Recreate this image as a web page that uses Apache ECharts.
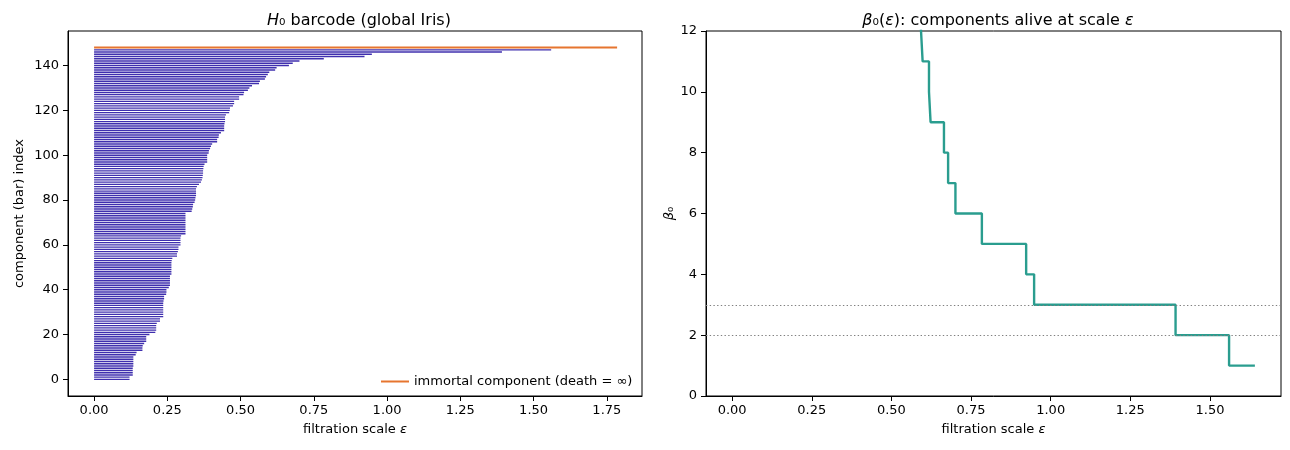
<!DOCTYPE html>
<html>
<head>
<meta charset="utf-8">
<script src="https://cdn.jsdelivr.net/npm/echarts@6/dist/echarts.min.js"></script>
<style>
  html, body { margin: 0; padding: 0; background: #fff; }
  #chart { width: 1290px; height: 450px; }
</style>
</head>
<body>
<div id="chart"></div>
<script>
// death scale of each finite H0 bar, sorted ascending (bar index = position)
const deaths = [
    0.121, 0.121, 0.132, 0.132, 0.132, 0.132, 0.134, 0.134, 0.134, 0.134,
    0.134, 0.142, 0.145, 0.165, 0.165, 0.166, 0.171, 0.178, 0.178, 0.178,
    0.189, 0.209, 0.212, 0.212, 0.212, 0.214, 0.225, 0.225, 0.236, 0.236,
    0.236, 0.236, 0.236, 0.236, 0.236, 0.237, 0.239, 0.239, 0.246, 0.247,
    0.247, 0.255, 0.259, 0.259, 0.259, 0.259, 0.259, 0.264, 0.264, 0.264,
    0.264, 0.264, 0.264, 0.265, 0.267, 0.283, 0.283, 0.286, 0.288, 0.288,
    0.295, 0.295, 0.295, 0.295, 0.297, 0.312, 0.312, 0.312, 0.312, 0.312,
    0.312, 0.312, 0.312, 0.312, 0.312, 0.333, 0.335, 0.337, 0.338, 0.343,
    0.345, 0.346, 0.348, 0.348, 0.348, 0.348, 0.351, 0.358, 0.365, 0.368,
    0.370, 0.371, 0.372, 0.372, 0.373, 0.374, 0.377, 0.386, 0.386, 0.386,
    0.386, 0.391, 0.392, 0.396, 0.399, 0.403, 0.420, 0.420, 0.425, 0.426,
    0.433, 0.444, 0.444, 0.444, 0.445, 0.447, 0.447, 0.447, 0.450, 0.461,
    0.463, 0.464, 0.474, 0.478, 0.478, 0.495, 0.495, 0.510, 0.512, 0.525,
    0.530, 0.539, 0.563, 0.566, 0.583, 0.587, 0.593, 0.598, 0.618, 0.623,
    0.665, 0.678, 0.701, 0.784, 0.923, 0.948, 1.392, 1.560
];
// the immortal bar, drawn up to this scale
const immortalEnd = 1.785;
// where the beta0 curve stops on the right
const stepEnd = 1.641;
// reference levels (dotted)
const refLevels = [3, 2];

const barXTicks = [0, 0.25, 0.5, 0.75, 1.0, 1.25, 1.5, 1.75];
const barYTicks = [0, 20, 40, 60, 80, 100, 120, 140];
const stepXTicks = [0, 0.25, 0.5, 0.75, 1.0, 1.25, 1.5];

const FONT = 'DejaVu Sans';
const immortalIdx = deaths.length;

// beta0(eps) = 1 + number of finite bars still alive
const stepData = [[0, deaths.length + 1]];
deaths.forEach((d, i) => {
    stepData.push([d, deaths.length - i]);
});
stepData.push([stepEnd, 1]);

const axisCommon = {
    axisLine: { show: true, onZero: false, lineStyle: { color: '#000', width: 1 } },
    axisTick: { show: true, inside: false, length: 5, lineStyle: { color: '#000' } },
    splitLine: { show: false },
    axisLabel: { color: '#000', fontFamily: FONT, fontSize: 13 },
    nameTextStyle: { color: '#000', fontFamily: FONT, fontSize: 13, rich: { i: { fontStyle: 'italic', fontFamily: FONT, fontSize: 13 } } }
};

function xAxisFor(gridIndex, min, max, ticks) {
    return Object.assign({}, axisCommon, {
        type: 'value', gridIndex, min, max,
        name: 'filtration scale {i|ε}', nameLocation: 'middle', nameGap: 27,
        axisTick: Object.assign({}, axisCommon.axisTick, { customValues: ticks }),
        axisLabel: Object.assign({}, axisCommon.axisLabel, {
            customValues: ticks, margin: 8,
            formatter: v => v.toFixed(2)
        })
    });
}

const chart = echarts.init(document.getElementById('chart'));
chart.setOption({
    backgroundColor: '#fff',
    animation: false,
    title: [
        {
            text: '{i|H}₀ barcode (global Iris)',
            left: 354, top: 8, textAlign: 'center',
            textStyle: { fontFamily: FONT, fontSize: 16, fontWeight: 'normal', color: '#000',
                rich: { i: { fontStyle: 'italic', fontFamily: FONT, fontSize: 16 } } }
        },
        {
            text: '{i|β}₀({i|ε}): components alive at scale {i|ε}',
            left: 993, top: 8, textAlign: 'center',
            textStyle: { fontFamily: FONT, fontSize: 16, fontWeight: 'normal', color: '#000',
                rich: { i: { fontStyle: 'italic', fontFamily: FONT, fontSize: 16 } } }
        }
    ],
    legend: {
        data: [{ name: 'immortal component (death = ∞)', icon: 'rect' }],
        left: 376, top: 370,
        itemWidth: 28, itemHeight: 2, itemGap: 8,
        textStyle: { fontFamily: FONT, fontSize: 13, color: '#000' }
    },
    grid: [
        { left: 68, right: 648, top: 31, bottom: 54, show: true, borderColor: '#000', borderWidth: 1 },
        { left: 706, right: 9, top: 31, bottom: 54, show: true, borderColor: '#000', borderWidth: 1 }
    ],
    xAxis: [
        xAxisFor(0, -0.089, 1.870, barXTicks),
        xAxisFor(1, -0.082, 1.723, stepXTicks)
    ],
    yAxis: [
        Object.assign({}, axisCommon, {
            type: 'value', gridIndex: 0, min: -7.4, max: 155.4,
            name: 'component (bar) index', nameLocation: 'middle', nameGap: 42,
            axisTick: Object.assign({}, axisCommon.axisTick, { customValues: barYTicks }),
            axisLabel: Object.assign({}, axisCommon.axisLabel, { customValues: barYTicks, margin: 9 })
        }),
        Object.assign({}, axisCommon, {
            type: 'value', gridIndex: 1, min: 0, max: 12, interval: 2,
            name: '{i|β}₀', nameLocation: 'middle', nameGap: 30,
            axisLabel: Object.assign({}, axisCommon.axisLabel, { margin: 9 })
        })
    ],
    series: [
        {
            name: 'bars',
            type: 'custom',
            xAxisIndex: 0, yAxisIndex: 0,
            silent: true,
            data: deaths.map((d, i) => [d, i]),
            encode: { x: 0, y: 1 },
            renderItem: function (params, api) {
                const start = api.coord([0, api.value(1)]);
                const end = api.coord([api.value(0), api.value(1)]);
                return {
                    type: 'line',
                    shape: { x1: start[0], y1: start[1], x2: end[0], y2: end[1] },
                    style: { stroke: '#3f2fae', lineWidth: 1.4 }
                };
            }
        },
        {
            name: 'immortal component (death = ∞)',
            type: 'line',
            xAxisIndex: 0, yAxisIndex: 0,
            symbol: 'none',
            lineStyle: { color: '#e6752f', width: 2 },
            itemStyle: { color: '#e6752f' },
            data: [[0, immortalIdx], [immortalEnd, immortalIdx]]
        },
        {
            name: 'beta0',
            type: 'line',
            xAxisIndex: 1, yAxisIndex: 1,
            step: 'end',
            symbol: 'none',
            clip: true,
            lineStyle: { color: '#2a9d8f', width: 2.4 },
            data: stepData,
            markLine: {
                silent: true,
                symbol: 'none',
                label: { show: false },
                lineStyle: { color: '#808080', width: 1, type: [1.4, 2.3] },
                data: refLevels.map(v => ({ yAxis: v }))
            },
            z: 3
        }
    ]
});
</script>
</body>
</html>
